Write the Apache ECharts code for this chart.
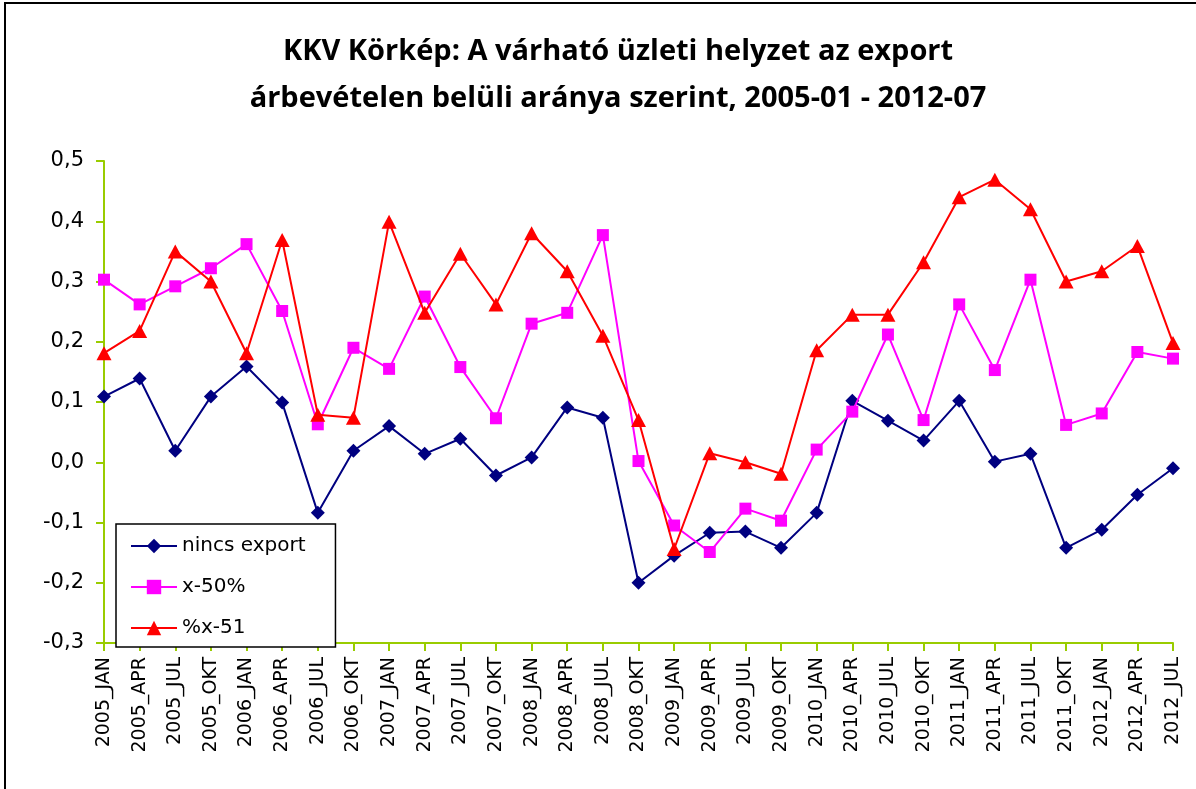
<!DOCTYPE html>
<html>
<head>
<meta charset="utf-8">
<script src="https://cdn.jsdelivr.net/npm/echarts@6/dist/echarts.min.js"></script>
<style>
html,body{margin:0;padding:0;background:#fff;}
#chart{width:1196px;height:789px;}
</style>
</head>
<body>
<div id="chart"></div>
<script>
const categories = [
  '2005_JAN','2005_APR','2005_JUL','2005_OKT',
  '2006_JAN','2006_APR','2006_JUL','2006_OKT',
  '2007_JAN','2007_APR','2007_JUL','2007_OKT',
  '2008_JAN','2008_APR','2008_JUL','2008_OKT',
  '2009_JAN','2009_APR','2009_JUL','2009_OKT',
  '2010_JAN','2010_APR','2010_JUL','2010_OKT',
  '2011_JAN','2011_APR','2011_JUL','2011_OKT',
  '2012_JAN','2012_APR','2012_JUL'
];
const nincsExport = [
  0.109, 0.139, 0.019, 0.109,
  0.159, 0.099, -0.084, 0.019,
  0.060, 0.014, 0.039, -0.022,
  0.008, 0.091, 0.074, -0.200,
  -0.155, -0.117, -0.115, -0.142,
  -0.084, 0.102, 0.069, 0.036,
  0.102, 0.001, 0.014, -0.142,
  -0.112, -0.054, -0.010
];
const x50 = [
  0.303, 0.262, 0.292, 0.322,
  0.362, 0.251, 0.063, 0.190,
  0.155, 0.275, 0.158, 0.073,
  0.230, 0.248, 0.377, 0.002,
  -0.105, -0.149, -0.077, -0.097,
  0.021, 0.084, 0.212, 0.070,
  0.262, 0.153, 0.303, 0.062,
  0.081, 0.183, 0.172
];
const x51 = [
  0.181, 0.218, 0.350, 0.300,
  0.181, 0.369, 0.079, 0.074,
  0.399, 0.248, 0.346, 0.262,
  0.380, 0.317, 0.210, 0.070,
  -0.144, 0.015, 0.000, -0.019,
  0.186, 0.245, 0.245, 0.332,
  0.440, 0.469, 0.420, 0.300,
  0.317, 0.359, 0.198
];
const seriesNames = ['nincs export', 'x-50%', '%x-51'];
const titleLines = ['KKV Körkép: A várható üzleti helyzet az export', 'árbevételen belüli aránya szerint, 2005-01 - 2012-07'];

const axisGreen = '#99CC00';
const chart = echarts.init(document.getElementById('chart'));
chart.setOption({
  animation: false,
  backgroundColor: '#ffffff',
  graphic: [
    {
      type: 'rect', silent: true, z: -1,
      shape: { x: 5, y: 3, width: 1200, height: 800 },
      style: { fill: 'none', stroke: '#000', lineWidth: 2 }
    },
    {
      type: 'text', silent: true,
      style: {
        text: titleLines.join('\n'),
        x: 618, y: 28,
        textAlign: 'center',
        fill: '#000',
        font: 'bold 29px "Open Sans"',
        lineHeight: 47
      }
    }
  ],
  legend: {
    orient: 'vertical',
    left: 116, top: 524,
    padding: [12, 30, 9, 14],
    itemGap: 21,
    itemWidth: 46, itemHeight: 18,
    backgroundColor: '#fff',
    borderColor: '#000', borderWidth: 1.5, borderRadius: 0,
    textStyle: { fontFamily: 'DejaVu Sans', fontSize: 20, color: '#000' },
    data: seriesNames
  },
  grid: { left: 104, right: 23, top: 161, bottom: 146, containLabel: false, outerBoundsMode: 'none' },
  xAxis: {
    type: 'category',
    data: categories,
    boundaryGap: false,
    axisLine: { onZero: false, lineStyle: { color: axisGreen, width: 2 } },
    axisTick: { show: true, alignWithLabel: true, length: 8, lineStyle: { color: axisGreen, width: 2 } },
    axisLabel: { rotate: 90, interval: 0, margin: 14, fontFamily: 'DejaVu Sans', fontSize: 19, color: '#000' },
    splitLine: { show: false }
  },
  yAxis: {
    type: 'value',
    min: -0.3, max: 0.5, interval: 0.1,
    axisLine: { show: true, lineStyle: { color: axisGreen, width: 2 } },
    axisTick: { show: true, length: 8, lineStyle: { color: axisGreen, width: 2 } },
    axisLabel: {
      margin: 20, fontFamily: 'DejaVu Sans', fontSize: 21, color: '#000',
      formatter: v => v.toFixed(1).replace('.', ',')
    },
    splitLine: { show: false }
  },
  series: [
    {
      name: seriesNames[0], type: 'line', data: nincsExport,
      symbol: 'diamond', symbolSize: 14, showAllSymbol: true,
      lineStyle: { color: '#000080', width: 2 },
      itemStyle: { color: '#000080' }, z: 3
    },
    {
      name: seriesNames[1], type: 'line', data: x50,
      symbol: 'rect', symbolSize: 12, showAllSymbol: true,
      lineStyle: { color: '#FF00FF', width: 2 },
      itemStyle: { color: '#FF00FF' }, z: 4
    },
    {
      name: seriesNames[2], type: 'line', data: x51,
      symbol: 'triangle', symbolSize: [15, 14], showAllSymbol: true,
      lineStyle: { color: '#FF0000', width: 2 },
      itemStyle: { color: '#FF0000' }, z: 5
    }
  ]
});
</script>
</body>
</html>
